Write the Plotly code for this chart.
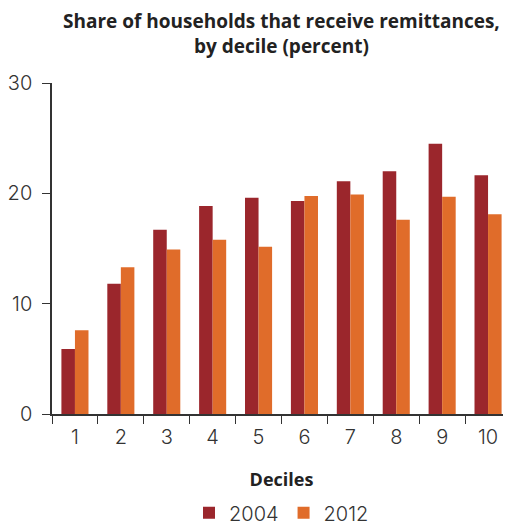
import plotly.graph_objects as go

deciles = ["1", "2", "3", "4", "5", "6", "7", "8", "9", "10"]
share_2004 = [5.9, 11.8, 16.7, 18.85, 19.6, 19.3, 21.1, 22.0, 24.5, 21.65]
share_2012 = [7.6, 13.3, 14.9, 15.8, 15.15, 19.75, 19.9, 17.6, 19.7, 18.1]

FONT = "Inter"
BOLD = "Open Sans"
fig = go.Figure()
fig.add_trace(go.Bar(x=deciles, y=share_2004, name="2004", marker_color="#9B262C", marker_line_width=0))
fig.add_trace(go.Bar(x=deciles, y=share_2012, name="2012", marker_color="#E06C2A", marker_line_width=0))

fig.update_layout(
    width=511, height=527,
    margin=dict(l=44, r=8, t=75, b=121, autoexpand=False),
    paper_bgcolor="white", plot_bgcolor="white",
    bargap=0.41, bargroupgap=0,
    font=dict(family=FONT, color="#333333", size=17),
    showlegend=True,
    legend=dict(orientation="h", x=0.5, xanchor="center", y=0.042, yanchor="middle", yref="container",
                font=dict(family=FONT, size=20, color="#333333", weight=300), itemwidth=30),
    xaxis=dict(type="category", tickson="boundaries", ticks="outside", ticklen=8, tickcolor="#333333",
               showline=True, linecolor="#333333", linewidth=1.5, showgrid=False, automargin=False,
               ticklabelstandoff=4,
               tickfont=dict(family=FONT, size=20, color="#333333", weight=300),
               title=dict(text="<b>Deciles</b>", font=dict(family=BOLD, size=18, color="#222222"), standoff=26)),
    yaxis=dict(range=[0, 30], tickvals=[0, 10, 20, 30], ticks="outside", ticklen=8, tickcolor="#333333",
               showline=True, linecolor="#333333", linewidth=1.5, showgrid=False, zeroline=False, automargin=False,
               ticklabelstandoff=6,
               tickfont=dict(family=FONT, size=20, color="#333333", weight=300)),
)
fig.add_annotation(text="<b>Share of households that receive remittances,<br>by decile (percent)</b>",
                   xref="paper", yref="paper", x=0.5, y=1, yshift=77, xanchor="center", yanchor="top",
                   showarrow=False, font=dict(family=BOLD, size=19, color="#222222"))
fig.write_html("out.html")
